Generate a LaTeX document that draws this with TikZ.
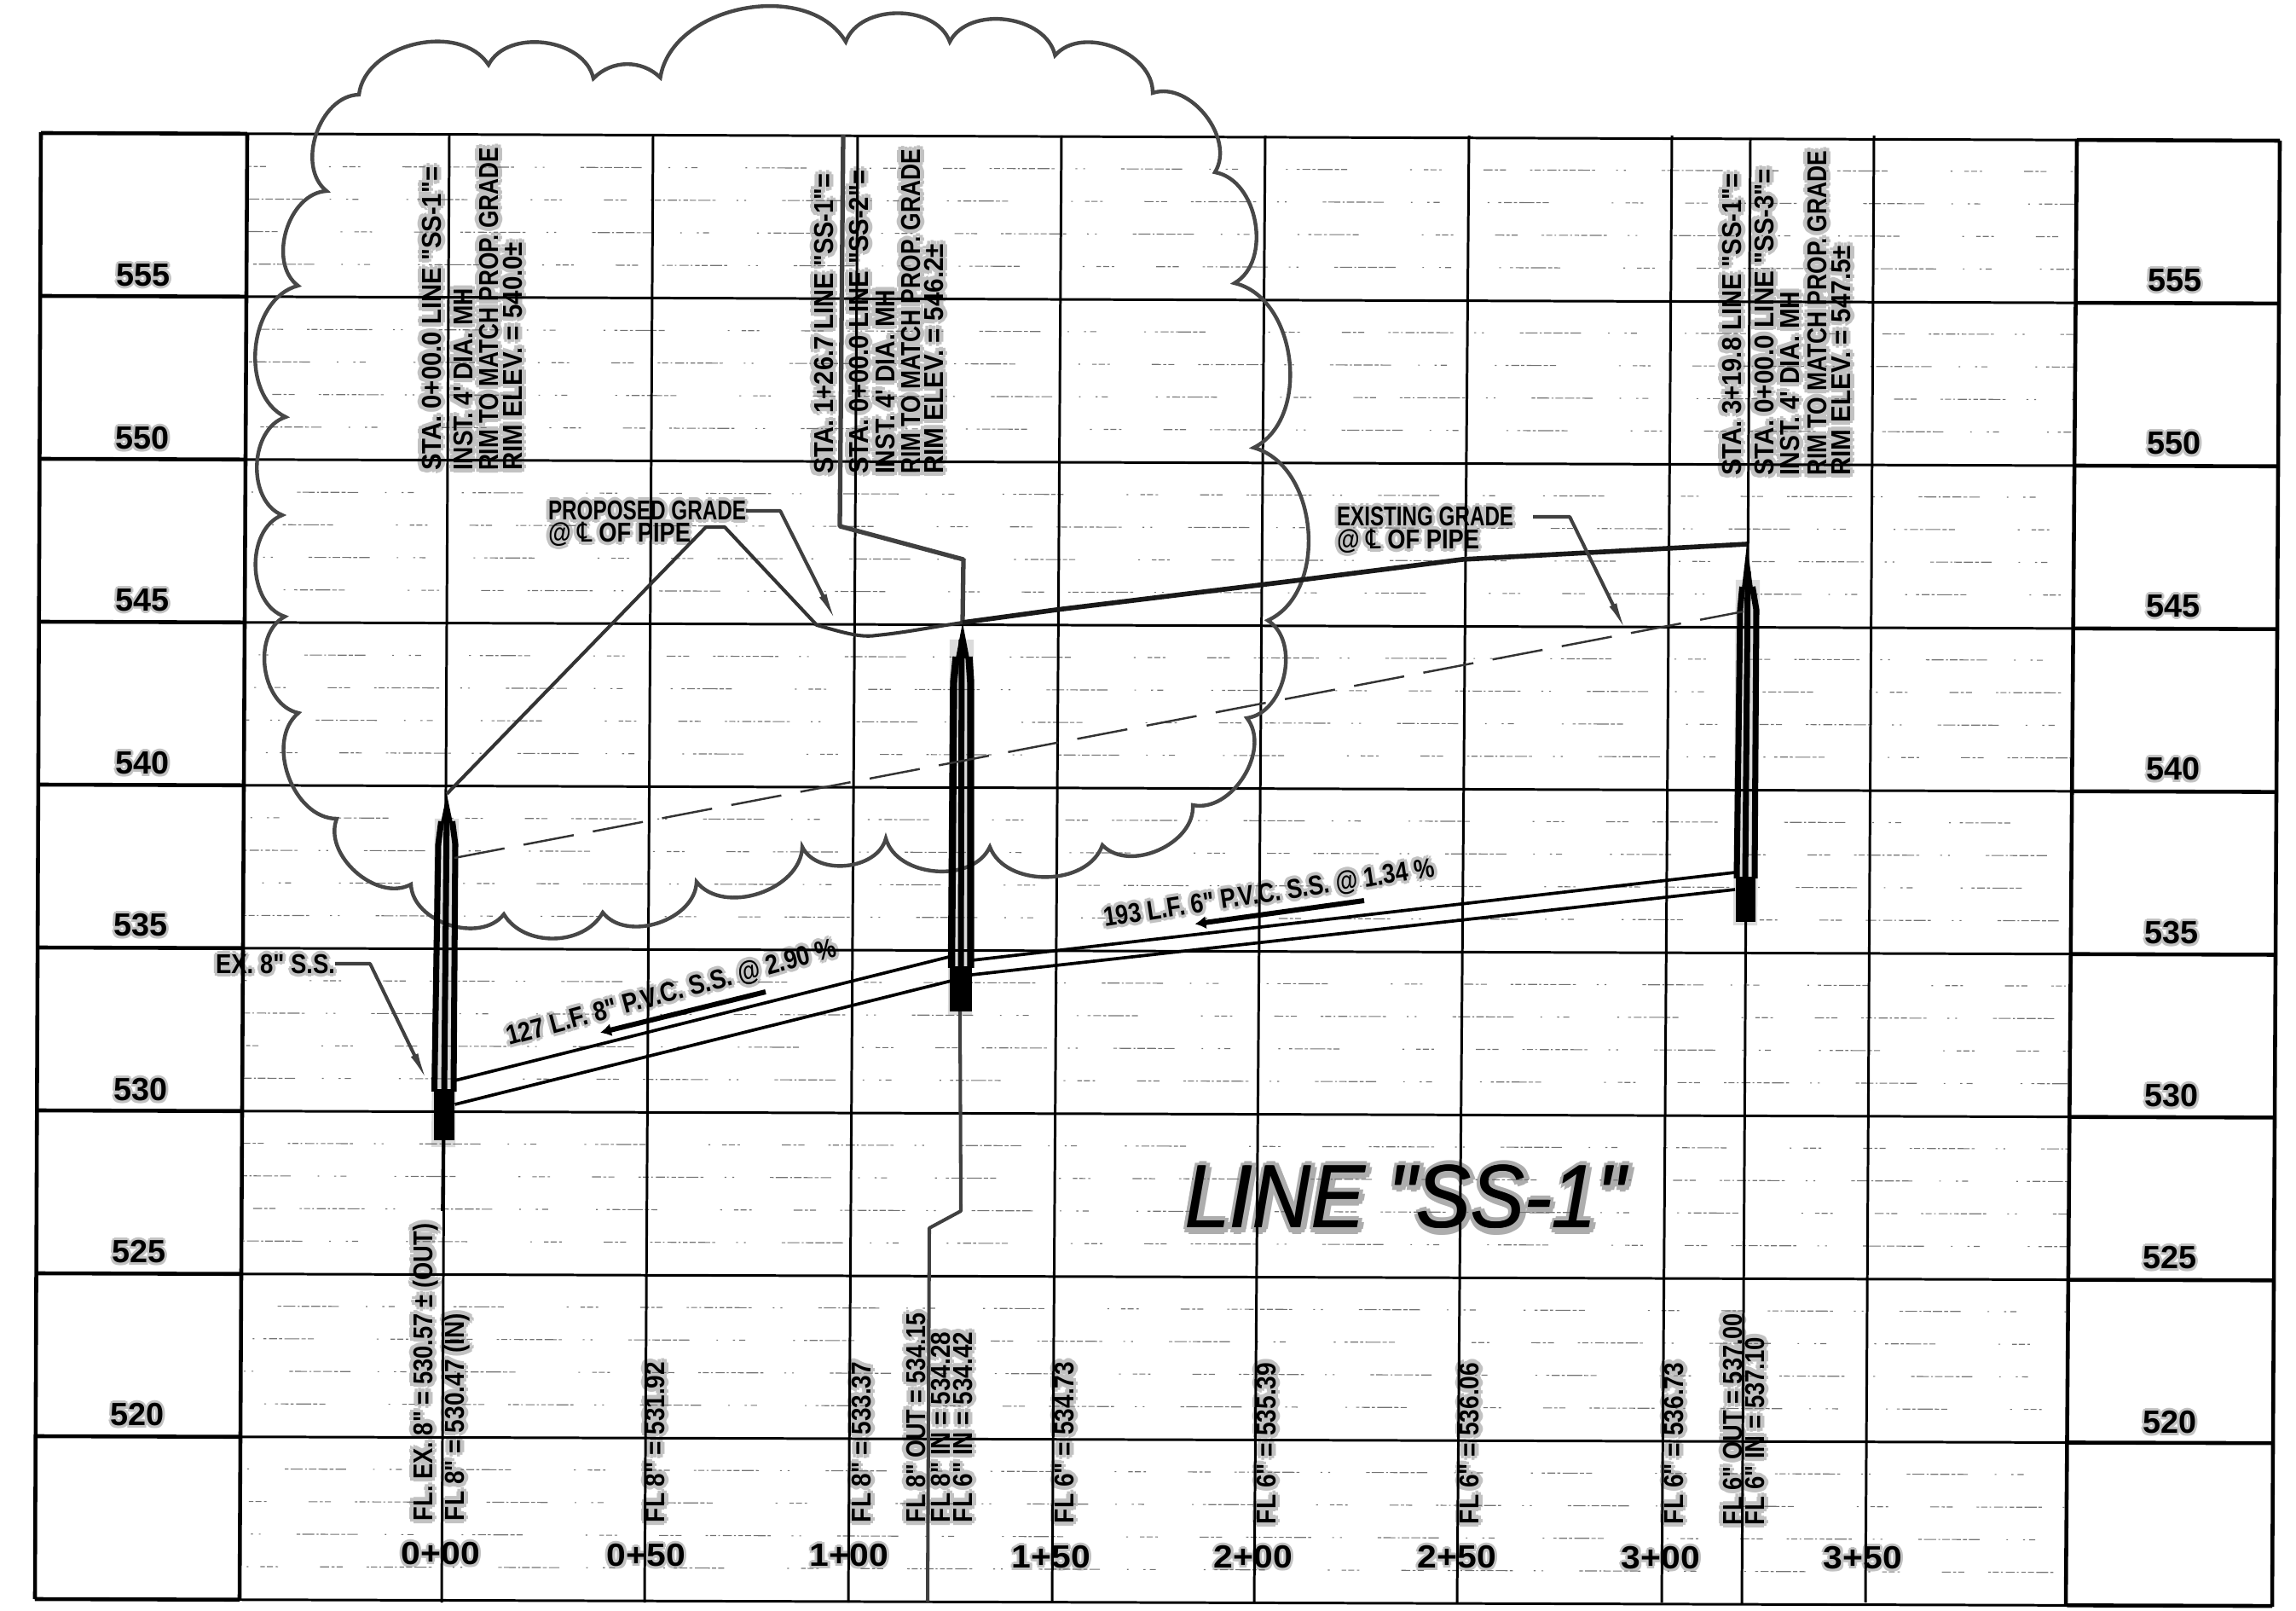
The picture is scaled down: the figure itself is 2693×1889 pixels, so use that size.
\documentclass[tikz,border=0pt]{standalone}
\usepackage{fontspec}
\usetikzlibrary{arrows.meta}
\setmainfont{Liberation Sans}
\newfontfamily\cad{Liberation Sans Bold}
\newfontfamily\ttl{Liberation Sans Italic}
\newfontfamily\djv{DejaVu Sans}
\pgfdeclarelayer{bg}
\pgfsetlayers{bg,main}
\newsavebox{\tbox}
\tikzset{
  grid/.style={line width=0.85pt,black},
  boxline/.style={line width=1.3pt,black},
  minor/.style={line width=0.32pt,black!55},
  cloud/.style={line width=1.25pt,black!72},
  bl/.style={bend left=70,looseness=1},
  leader/.style={line width=1.15pt,black!75,line join=round},
  pipe/.style={line width=1.05pt,black},
  body/.style={line width=2pt,black},
  halobar/.style={line width=8pt,black!14},
  txt/.style={inner sep=0pt,outer sep=0pt,text=black},
  htxt/.style={inner sep=0pt,outer sep=0pt,text=black!24},
  tip/.style={-{Latex[length=11pt,width=2.6pt]}},
  rtip/.style={{Latex[length=11pt,width=3pt]}-}
}
% general label: name, x, y, angle, anchor, font size, length in px, halo radius, text
\newcommand{\lab}[9]{%
  \pgfinterruptpicture\global\setbox\tbox=\hbox{\cad\fontsize{#6}{#6}\selectfont #9}\endpgfinterruptpicture%
  \pgfmathsetmacro{\sc}{#7*0.28453/\the\wd\tbox}%
  \begin{pgfonlayer}{bg}%
  \foreach \dx/\dy [count=\c] in {1/0,-1/0,0/1,0/-1,0.7/0.7,-0.7/0.7,0.7/-0.7,-0.7/-0.7}{%
    \node[htxt,rotate=#4,anchor=#5] (#1h\c) at (#2+#8*\dx,#3+#8*\dy) {\scalebox{\sc}[1]{\copy\tbox}};%
  }%
  \end{pgfonlayer}%
  \node[txt,rotate=#4,anchor=#5] (#1) at (#2,#3) {\scalebox{\sc}[1]{\copy\tbox}};}
\newcommand{\vlab}[5]{\lab{#1}{#2+11}{#3}{90}{base west}{9.1}{#4}{5}{#5}}
\newcommand{\slab}[6]{\lab{#1}{#2}{#3}{#4}{base west}{9.1}{#5}{4}{#6}}
\newcommand{\clab}[4]{\lab{#1}{#2}{#3}{0}{center}{10.7}{63}{3}{#4}}
\newcommand{\stlab}[4]{\lab{#1}{#2}{#3}{0}{center}{10.7}{92}{3}{#4}}
\begin{document}
\begin{tikzpicture}[x=0.01cm,y=-0.01cm]
\useasboundingbox (0,0) rectangle (2693,1889);
% faint scanned minor lines
\foreach \k in {0,...,8}{
  \foreach \j in {1,2,3,4}{
    \pgfmathsetmacro{\yl}{157+190.9*(\k+\j/5)}
    \pgfmathsetmacro{\yr}{163+191*(\k+\j/5)}
    \pgfmathsetmacro{\xl}{290-(\k+\j/5)}
    \pgfmathsetmacro{\xr}{2436-1.3*(\k+\j/5)}
    \pgfmathsetmacro{\ph}{mod(47*\k+113*\j,230)}
    \draw[minor,dash pattern=on 0.8pt off 0.7pt on 2pt off 0.8pt on 0.5pt off 1pt on 3pt off 0.7pt on 0.6pt off 0.9pt on 1.5pt off 0.7pt on 2pt off 0.8pt on 4pt off 0.7pt on 1pt off 7pt on 0.6pt off 2pt on 0.6pt off 12pt on 1.2pt off 0.7pt on 4pt off 0.8pt on 0.6pt off 0.7pt on 2.5pt off 0.7pt on 3pt off 0.7pt on 1.3pt off 0.7pt on 3.5pt off 9pt on 0.5pt off 5pt on 0.7pt off 1.4pt on 2pt off 16pt on 0.6pt off 3pt on 1pt off 0.9pt on 2.6pt off 0.7pt on 1pt off 0.8pt on 5pt off 0.7pt on 1.4pt off 0.7pt on 2pt off 21pt on 0.6pt off 4pt on 1.5pt off 0.7pt on 2pt off 0.9pt on 0.8pt off 14pt on 3pt off 0.8pt on 1pt off 0.7pt on 2pt off 8pt,dash phase=\ph pt] (\xl,\yl) -- (\xr,\yr);
  }
}
% horizontal major lines with the side boxes
\foreach \k in {0,...,9}{
  \pgfmathsetmacro{\ya}{156+191*\k}
  \pgfmathsetmacro{\yb}{165+190.9*\k}
  \pgfmathsetmacro{\xa}{48-0.78*\k}
  \pgfmathsetmacro{\xb}{2674-\k}
  \draw[grid] (\xa,\ya) -- (\xb,\yb);
  \pgfmathsetmacro{\sl}{(\yb-\ya)/(\xb-\xa)}
  \pgfmathsetmacro{\yc}{\ya+(290-\xa)*\sl}
  \pgfmathsetmacro{\yd}{\ya+(2430-\xa)*\sl}
  \draw[boxline] (\xa,\ya) -- (290-\k,\yc);
  \draw[boxline] (2436-1.3*\k,\yd) -- (\xb,\yb);
}
% side box verticals
\draw[boxline] (48,155) -- (41,1875);
\draw[boxline] (290,157) -- (281,1876);
\draw[boxline] (2436,163) -- (2423,1883);
\draw[boxline] (2674,165) -- (2665,1884);
% station verticals
\foreach \a/\b in {527/518,766/756,1006/995,1245/1234,1484/1471,1723/1709,1961/1949,2198/2188}{
  \draw[grid] (\a,159) -- (\b,1879);
}
\draw[grid] (2053,162) -- (2043,1880);
% cloud
\draw[cloud] (335,489) to[bl] (349.5,335) to[bl] (383,224) to[bl] (421,111)
  to[bl] (573,76) to[bl] (696,92) to[bend left=45] (774.5,91) to[bl] (992,49)
  to[bl] (1114,49) to[bl] (1237.5,65) to[bl] (1352,109) to[bl] (1425,202)
  to[bl] (1448,332) to[bl] (1470.5,525) to[bl] (1487,727.5) to[bl] (1462.5,842)
  to[bl] (1399,944) to[bl] (1293,991) to[bl] (1161,993) to[bl] (1039,983)
  to[bl] (941,993) to[bl] (817,1034) to[bl] (707,1070) to[bend left=60] (591,1072)
  to[bl] (482,1037) to[bl] (395,960) to[bl] (350,836) to[bl] (334,723)
  to[bl] (331,604) to[bl] cycle;
% key points
\coordinate (mh1tip) at (524,931);
\coordinate (mh2tip) at (1129,730);
\coordinate (mh3tip) at (2049,638);
% halos of the manholes
\begin{pgfonlayer}{bg}
  \draw[halobar] (524,960) -- (520,1345);
  \draw[halobar] (1128,750) -- (1126,1190);
  \draw[halobar] (2050,680) -- (2047,1085);
\end{pgfonlayer}
% manhole 1
\fill (mh1tip) -- (531,965) -- (517,965) -- cycle;
\draw[body] (517.5,963) -- (514,990) -- (509.5,1280);
\draw[body] (524,950) -- (521,1280);
\draw[body] (530.5,963) -- (534,990) -- (532,1280);
\fill (509,1277) rectangle (533,1337);
\draw[pipe] (520,1337) -- (519,1420);
% manhole 2
\fill (mh2tip) -- (1137,772) -- (1121,772) -- cycle;
\draw[line width=2.4pt] (1121.5,770) -- (1118.5,800) -- (1116,1135);
\draw[body] (1128,750) -- (1127,1135);
\draw[line width=2.4pt] (1136.5,770) -- (1138.5,800) -- (1138.5,1135);
\fill (1114,1133) rectangle (1140,1186);
% manhole 3
\fill (mh3tip) -- (2056,690) -- (2043,690) -- cycle;
\draw[body] (2043.5,688) -- (2041,715) -- (2037,1030);
\draw[body] (2050,670) -- (2047,1030);
\draw[body] (2055.5,688) -- (2060,715) -- (2058,1030);
\fill (2036,1028) rectangle (2059,1081);
% manhole 2 lead lines
\draw[leader,line width=1.5pt] (989,158) -- (985,617) -- (1130,656) -- (mh2tip);
\draw[leader] (1126,1186) -- (1127,1420) -- (1090,1440) -- (1088,1878);
% pipes
\draw[pipe] (533.6,1267) -- (1117,1121);
\draw[pipe] (533.6,1295) -- (1116,1150);
\draw[pipe] (1140,1126) -- (2035,1023);
\draw[pipe] (1140,1143) -- (2035,1043);
% proposed grade
\draw[leader,black!80] (mh1tip) -- (828,618) -- (850,618) -- (958,733)
  .. controls (990,742) and (1010,748) .. (1028,745) .. controls (1060,742) and (1095,735) .. (mh2tip);
\draw[line width=1.6pt,black!90,line join=round] (mh2tip) -- (1239,715) -- (1518,681) -- (1715,656) -- (mh3tip);
% existing grade
\draw[line width=0.7pt,black!80,dash pattern=on 17pt off 6.5pt] (533,1006) -- (2045,717);
% vertical station notes
\vlab{a1}{506}{552}{356}{STA. 0+00.0 LINE "SS-1"=}
\vlab{a2}{543}{552}{214}{INST. 4' DIA. MH}
\vlab{a3}{573}{552}{379}{RIM TO MATCH PROP. GRADE}
\vlab{a4}{601}{552}{268}{RIM ELEV. = 540.0±}
\vlab{b1}{966}{556}{352}{STA. 1+26.7 LINE "SS-1"=}
\vlab{b2}{1007}{556}{356}{STA. 0+00.0 LINE "SS-2"=}
\vlab{b3}{1038}{556}{216}{INST. 4' DIA. MH}
\vlab{b4}{1068}{556}{381}{RIM TO MATCH PROP. GRADE}
\vlab{b5}{1095}{556}{270}{RIM ELEV. = 546.2±}
\vlab{c1}{2031}{558}{354}{STA. 3+19.8 LINE "SS-1"=}
\vlab{c2}{2069}{558}{360}{STA. 0+00.0 LINE "SS-3"=}
\vlab{c3}{2099}{558}{216}{INST. 4' DIA. MH}
\vlab{c4}{2131}{558}{381}{RIM TO MATCH PROP. GRADE}
\vlab{c5}{2159}{558}{270}{RIM ELEV. = 547.5±}
% flow line notes
\vlab{f1}{496}{1783}{348}{FL. EX. 8" = 530.57 ± (OUT)}
\vlab{f2}{533}{1783}{243}{FL 8" = 530.47 (IN)}
\vlab{f3}{768}{1785}{188}{FL 8" = 531.92}
\vlab{f4}{1010}{1785}{188}{FL 8" = 533.37}
\vlab{f5}{1074}{1785}{245}{FL 8" OUT = 534.15}
\vlab{f6}{1103}{1785}{223}{FL 8" IN = 534.28}
\vlab{f7}{1129}{1785}{223}{FL 6" IN = 534.42}
\vlab{f8}{1248}{1786}{189}{FL 6" = 534.73}
\vlab{f9}{1485}{1787}{189}{FL 6" = 535.39}
\vlab{f10}{1723}{1787}{189}{FL 6" = 536.06}
\vlab{f11}{1963}{1787}{189}{FL 6" = 536.73}
\vlab{f12}{2032}{1788}{248}{FL 6" OUT = 537.00}
\vlab{f13}{2058}{1788}{220}{FL 6" IN = 537.10}
% level notes
\slab{pg1}{643}{610}{0}{232}{PROPOSED GRADE}
\slab{pg2}{643}{636}{0}{167}{@ {\djv ℄} OF PIPE}
\slab{eg1}{1568}{617}{0}{207}{EXISTING GRADE}
\slab{eg2}{1568}{644}{0}{167}{@ {\djv ℄} OF PIPE}
\slab{ex}{253}{1142}{0}{140}{EX. 8" S.S.}
\slab{p1}{597}{1226}{15.2}{400}{127 L.F. 8" P.V.C. S.S. @ 2.90 \%}
\slab{p2}{1296}{1087}{8.7}{392}{193 L.F. 6" P.V.C. S.S. @ 1.34 \%}
% leaders
\draw[leader,tip] (pg1.base east) ++(0,-11) -- ++(40,0) -- (982.6,733);
\draw[leader,tip] (eg1.base east) ++(23,-11) -- ++(43,0) -- (1909,744);
\draw[leader,tip] (ex.base east) ++(0,-12) -- ++(41,0) -- (503,1272);
% flow arrows
\draw[line width=1.7pt,rtip] (679,1217) -- (898,1163);
\draw[line width=1.7pt,rtip] (1376,1087) -- (1600,1056);
% elevation labels
\clab{l555}{168}{323}{555}\clab{l550}{167}{514}{550}\clab{l545}{167}{704}{545}\clab{l540}{167}{895}{540}
\clab{l535}{165}{1085}{535}\clab{l530}{165}{1278}{530}\clab{l525}{163}{1468}{525}\clab{l520}{161}{1659}{520}
\clab{r555}{2551}{329}{555}\clab{r550}{2550}{520}{550}\clab{r545}{2549}{711}{545}\clab{r540}{2549}{902}{540}
\clab{r535}{2547}{1094}{535}\clab{r530}{2547}{1285}{530}\clab{r525}{2545}{1475}{525}\clab{r520}{2545}{1668}{520}
% station labels
\stlab{s0}{517}{1822}{0+00}\stlab{s1}{758}{1824}{0+50}\stlab{s2}{996}{1824}{1+00}\stlab{s3}{1233}{1826}{1+50}
\stlab{s4}{1470}{1826}{2+00}\stlab{s5}{1709}{1826}{2+50}\stlab{s6}{1948}{1827}{3+00}\stlab{s7}{2185}{1827}{3+50}
% title
\pgfinterruptpicture\global\setbox\tbox=\hbox{\ttl\fontsize{30}{32}\selectfont LINE "SS-1"}\endpgfinterruptpicture
\pgfmathsetmacro{\sc}{517*0.28453/\the\wd\tbox}
\begin{pgfonlayer}{bg}
\foreach \dx/\dy [count=\c] in {1/0,-1/0,0/1,0/-1,0.7/0.7,-0.7/0.7,0.7/-0.7,-0.7/-0.7}{
  \node[htxt,anchor=base west,text=black!32] (titleh\c) at (1391+6*\dx,1441+6*\dy) {\scalebox{\sc}[1]{\copy\tbox}};
}
\end{pgfonlayer}
\node[txt,anchor=base west] (title) at (1389,1439) {\scalebox{\sc}[1]{\copy\tbox}};
\node[txt,anchor=base west] (titleb) at (1390.5,1439) {\scalebox{\sc}[1]{\copy\tbox}};
\end{tikzpicture}
\end{document}
